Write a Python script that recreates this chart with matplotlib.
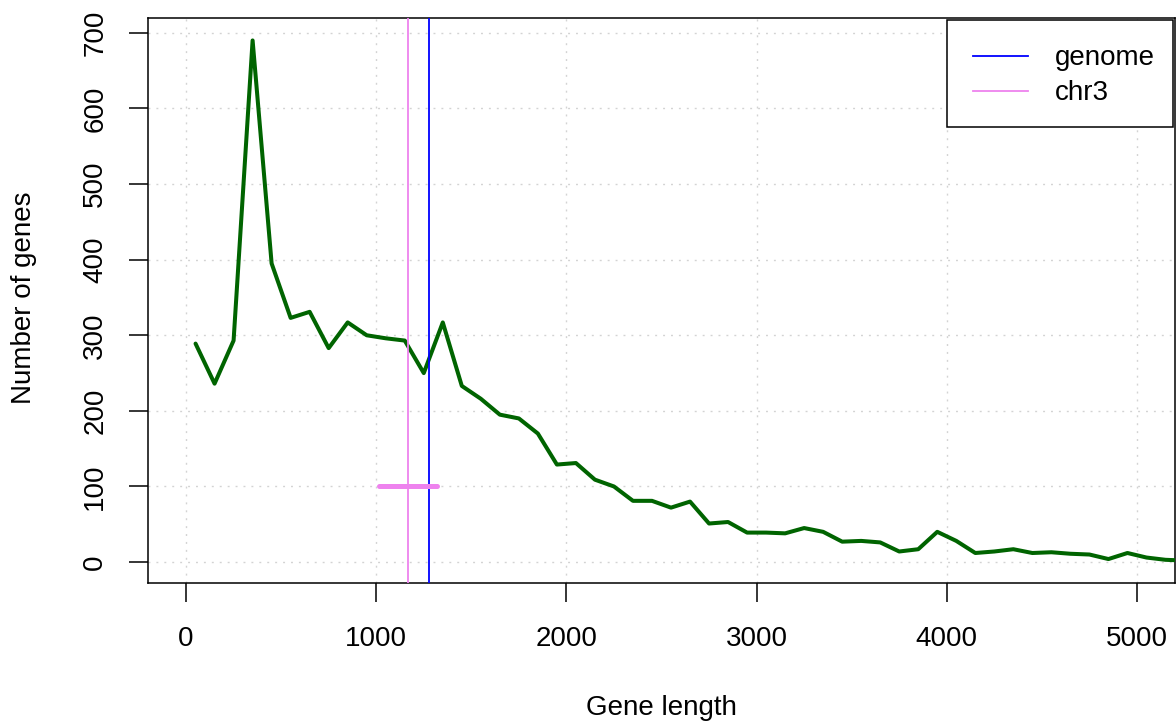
import matplotlib
matplotlib.use("Agg")
import matplotlib.pyplot as plt
from matplotlib.lines import Line2D
from matplotlib.patches import Rectangle

plt.rcParams['font.family'] = ['Liberation Sans', 'DejaVu Sans']

# ---- data ----
bin_mid = [50, 150, 250, 350, 450, 550, 650, 750, 850, 950,
           1050, 1150, 1250, 1350, 1450, 1550, 1650, 1750, 1850, 1950,
           2050, 2150, 2250, 2350, 2450, 2550, 2650, 2750, 2850, 2950,
           3050, 3150, 3250, 3350, 3450, 3550, 3650, 3750, 3850, 3950,
           4050, 4150, 4250, 4350, 4450, 4550, 4650, 4750, 4850, 4950,
           5050, 5150, 5250]
gene_counts = [289, 236, 293, 690, 395, 323, 331, 283, 317, 300,
               296, 293, 250, 317, 233, 216, 195, 190, 170, 129,
               131, 109, 100, 81, 81, 72, 80, 51, 53, 39,
               39, 38, 45, 40, 27, 28, 26, 14, 17, 40,
               28, 12, 14, 17, 12, 13, 11, 10, 4, 12,
               6, 3, 2]
genome_mean = 1280
chr3_mean = 1168
chr3_range = [1017, 1320]
chr3_range_y = 100
x_ticks = [0, 1000, 2000, 3000, 4000, 5000]
y_ticks = [0, 100, 200, 300, 400, 500, 600, 700]
legend_labels = ["genome", "chr3"]
legend_colors = ["blue", "violet"]

W, H = 1176, 725
fig = plt.figure(figsize=(W / 100, H / 100), dpi=100)
ax = fig.add_axes([148 / W, 1 - 583 / H, (1175 - 148) / W, (583 - 18) / H])

FS = 20

# grid
for xv in x_ticks:
    ax.axvline(xv, color='lightgray', lw=1.0, linestyle=(0, (1.4, 4.3)), zorder=1)
for yv in y_ticks:
    ax.axhline(yv, color='lightgray', lw=1.0, linestyle=(0, (1.4, 4.3)), zorder=1)

ax.plot(bin_mid, gene_counts, color='#006400', lw=2.9, zorder=3,
        solid_joinstyle='round', solid_capstyle='round')
ax.axvline(genome_mean, color='blue', lw=1.3, zorder=4)
ax.axvline(chr3_mean, color='violet', lw=1.3, zorder=4)
ax.plot(chr3_range, [chr3_range_y, chr3_range_y], color='violet', lw=3.6,
        solid_capstyle='round', zorder=4)

ax.set_xlim(-200, 5200)
ax.set_ylim(-27.68, 719.68)

ax.set_xticks(x_ticks)
ax.set_xticklabels([str(v) for v in x_ticks], fontsize=FS)
ax.set_yticks(y_ticks)
ax.set_yticklabels([str(v) for v in y_ticks], fontsize=FS, rotation=90, va='center')
ax.tick_params(axis='both', length=13.7, width=1.1, color='black')
ax.tick_params(axis='x', pad=17)
ax.tick_params(axis='y', pad=15)
for s in ax.spines.values():
    s.set_linewidth(1.1)

fig.text(661 / W, 1 - 708 / H, "Gene length", fontsize=FS, ha='center', va='center')
fig.text(24 / W, 1 - 298 / H, "Number of genes", fontsize=FS, ha='center', va='center',
         rotation=90)

# legend box (R style, manual)
fig.patches.append(Rectangle((947 / W, 1 - 127 / H), (1173 - 947) / W, (127 - 20) / H,
                             transform=fig.transFigure, facecolor='white',
                             edgecolor='black', lw=1.1, zorder=5))
ys = [55.7, 90.7]
bases = [64.7, 99.7]
for lab, col, yy, bb in zip(legend_labels, legend_colors, ys, bases):
    fig.lines.append(Line2D([973 / W, 1028 / W], [1 - yy / H, 1 - yy / H],
                            transform=fig.transFigure, color=col, lw=1.3, zorder=6))
    fig.text(1055 / W, 1 - bb / H, lab, fontsize=FS, ha='left', va='baseline', zorder=6)

fig.savefig("out.png", dpi=100)
